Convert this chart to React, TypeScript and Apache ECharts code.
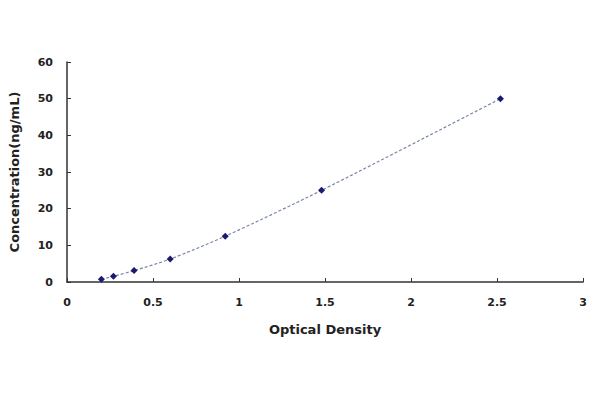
import React, { useEffect, useRef } from "react";
import * as echarts from "echarts";

const odValues = [0.2, 0.27, 0.39, 0.6, 0.92, 1.48, 2.52];
const concValues = [0.78, 1.56, 3.12, 6.25, 12.5, 25, 50];
const xTicks = [0, 0.5, 1, 1.5, 2, 2.5, 3];
const yTicks = [0, 10, 20, 30, 40, 50, 60];

export default function App() {
  const ref = useRef<HTMLDivElement>(null);
  useEffect(() => {
    if (!ref.current) return;
    const chart = echarts.init(ref.current, null, { renderer: "svg" });
    const data = odValues.map((x, i) => [x, concValues[i]]);
    const font = "'DejaVu Sans', Arial, sans-serif";
    chart.setOption({
      animation: false,
      backgroundColor: "#ffffff",
      grid: { left: 66, right: 17, top: 62, bottom: 118, containLabel: false },
      xAxis: {
        type: "value",
        min: xTicks[0],
        max: xTicks[xTicks.length - 1],
        interval: 0.5,
        name: "Optical Density",
        nameLocation: "middle",
        nameGap: 41,
        nameTextStyle: { fontFamily: font, fontWeight: "bold", fontSize: 13, color: "#222" },
        axisLine: { lineStyle: { color: "#333", width: 1.5 } },
        axisTick: { inside: true, length: 4, lineStyle: { color: "#333" } },
        axisLabel: {
          margin: 15,
          fontFamily: font,
          fontWeight: "bold",
          fontSize: 11,
          color: "#222",
          formatter: (v: number) => String(v),
        },
        splitLine: { show: false },
      },
      yAxis: {
        type: "value",
        min: yTicks[0],
        max: yTicks[yTicks.length - 1],
        interval: 10,
        name: "Concentration(ng/mL)",
        nameLocation: "middle",
        nameGap: 46,
        nameTextStyle: { fontFamily: font, fontWeight: "bold", fontSize: 13, color: "#222" },
        axisLine: { show: true, lineStyle: { color: "#333", width: 1.5 } },
        axisTick: { show: true, inside: true, length: 4, lineStyle: { color: "#333" } },
        axisLabel: { margin: 14, fontFamily: font, fontWeight: "bold", fontSize: 11, color: "#222" },
        splitLine: { show: false },
      },
      series: [
        {
          type: "line",
          data,
          smooth: 0.3,
          symbol: "diamond",
          symbolSize: 7,
          itemStyle: { color: "#1a1a6e" },
          lineStyle: { color: "#7a86a8", width: 1.2, type: [3, 2] },
        },
      ],
    });
    return () => chart.dispose();
  }, []);
  return <div ref={ref} style={{ width: 600, height: 400, position: "absolute", left: 0, top: 0 }} />;
}
